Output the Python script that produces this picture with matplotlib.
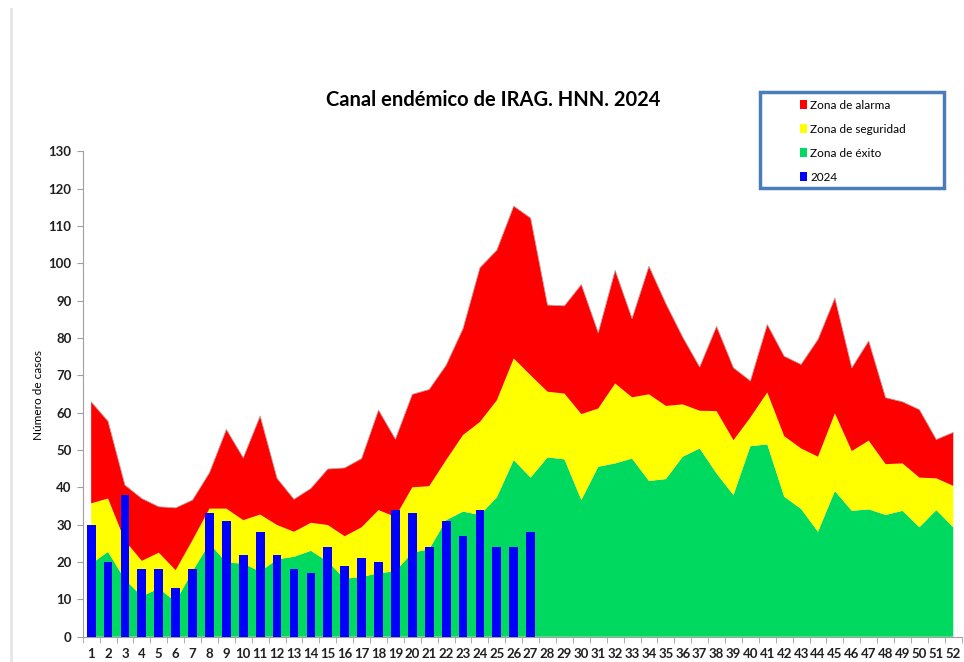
import numpy as np
import matplotlib.pyplot as plt
from matplotlib.patches import Patch, Rectangle
from matplotlib.lines import Line2D

plt.rcParams['font.family'] = ['Lato', 'DejaVu Sans']

# Epidemiological weeks
semanas = list(range(1, 53))

# Upper limit of each zone (cumulative values, cases)
exito = [19.5, 22.7, 15.3, 10.8, 12.9, 9.4, 17.5, 25.0, 19.8, 19.6,
         17.4, 20.7, 21.4, 23.0, 20.1, 15.5, 16.0, 17.0, 17.5, 22.5,
         23.4, 31.2, 33.5, 32.6, 37.3, 47.3, 42.6, 48.0, 47.5, 36.6,
         45.5, 46.4, 47.7, 41.7, 42.2, 48.2, 50.4, 43.7, 37.9, 51.0,
         51.5, 37.5, 34.2, 28.1, 39.0, 33.7, 34.1, 32.6, 33.7, 29.3,
         33.9, 29.3]
seguridad = [35.7, 37.0, 25.7, 20.3, 22.5, 17.8, 25.9, 34.3, 34.3, 31.2,
             32.7, 29.9, 28.1, 30.5, 29.9, 26.9, 29.3, 33.9, 32.1, 40.0,
             40.3, 47.3, 54.0, 57.5, 63.3, 74.5, 70.0, 65.6, 65.1, 59.6,
             61.1, 67.8, 64.1, 64.9, 61.8, 62.2, 60.5, 60.4, 52.6, 58.7,
             65.4, 53.7, 50.4, 48.2, 59.8, 49.7, 52.5, 46.2, 46.4, 42.6,
             42.4, 40.4]
alarma = [62.9, 57.7, 40.6, 37.0, 34.8, 34.5, 36.6, 43.9, 55.5, 47.9,
          59.1, 42.4, 36.8, 39.7, 44.9, 45.2, 47.7, 60.7, 52.9, 64.9,
          66.2, 72.7, 82.5, 98.8, 103.5, 115.3, 112.1, 88.8, 88.6, 94.3,
          81.4, 98.1, 85.2, 99.2, 89.2, 80.2, 72.2, 83.1, 72.0, 68.5,
          83.6, 75.1, 72.9, 79.6, 90.7, 72.0, 79.2, 64.0, 62.9, 60.8,
          52.8, 54.7]

# Cases 2024 (weeks 1-27)
casos_2024 = [30, 20, 38, 18, 18, 13, 18, 33, 31, 22, 28, 22, 18, 17, 24,
              19, 21, 20, 34, 33, 24, 31, 27, 34, 24, 24, 28]

etiquetas = ['Zona de alarma', 'Zona de seguridad', 'Zona de éxito', '2024']
c_rojo, c_amarillo, c_verde, c_azul = '#FF0000', '#FFFF00', '#00D95F', '#0000FF'

W, H = 964, 662
fig = plt.figure(figsize=(W / 100, H / 100), dpi=100)
ax = fig.add_axes([82.7 / W, (H - 636.7) / H, 879 / W, 485.5 / H])

x = np.array(semanas)
exito_a = np.array(exito)
seg_a = np.array(seguridad)
ala_a = np.array(alarma)
ax.stackplot(x, exito_a, seg_a - exito_a, ala_a - seg_a,
             colors=[c_verde, c_amarillo, c_rojo], linewidth=0)
ax.plot(x, ala_a, color='#C8A0A0', lw=0.6)

ax.bar(semanas[:len(casos_2024)], casos_2024, width=0.52, color=c_azul, zorder=3)

ax.set_xlim(0.5, 52.5)
ax.set_ylim(0, 130)
ax.set_yticks(range(0, 131, 10))
ax.set_xticks(semanas)
ax.set_xticks(np.arange(0.5, 53, 1), minor=True)
ax.tick_params(axis='x', which='major', length=0, pad=8, labelsize=9.5)
ax.tick_params(axis='x', which='minor', length=4, color='#A0A0A0')
ax.tick_params(axis='y', length=4, color='#A0A0A0', labelsize=9.5, pad=4)
for lab in ax.get_xticklabels() + ax.get_yticklabels():
    lab.set_fontweight('bold')
    lab.set_color('#202020')

for s in ['top', 'right']:
    ax.spines[s].set_visible(False)
for s in ['left', 'bottom']:
    ax.spines[s].set_color('#A0A0A0')

fig.text(493 / W, 1 - 100 / H, 'Canal endémico de IRAG. HNN. 2024',
         ha='center', va='center', fontsize=14.5, fontweight='bold')
fig.text(38 / W, 1 - 395 / H, 'Número de casos', rotation=90,
         ha='center', va='center', fontsize=8.5)

# legend box
fig.patches.append(Rectangle((760 / W, 1 - 188 / H), 184 / W, 96 / H,
                             transform=fig.transFigure, fill=False,
                             edgecolor='#4A7EBB', lw=2.5))
handles = [Patch(facecolor=c, edgecolor='none')
           for c in [c_rojo, c_amarillo, c_verde, c_azul]]
fig.legend(handles, etiquetas, loc='upper left',
           bbox_to_anchor=(795 / W, 1 - 95 / H), frameon=False,
           fontsize=8.5, handlelength=0.6, handleheight=0.7,
           handletextpad=0.3, labelspacing=1.1, borderaxespad=0)

fig.add_artist(Line2D([11 / W, 11 / W], [0, 1 - 9 / H], color='#E6E6E6', lw=2))

fig.savefig('out.png', dpi=100)
